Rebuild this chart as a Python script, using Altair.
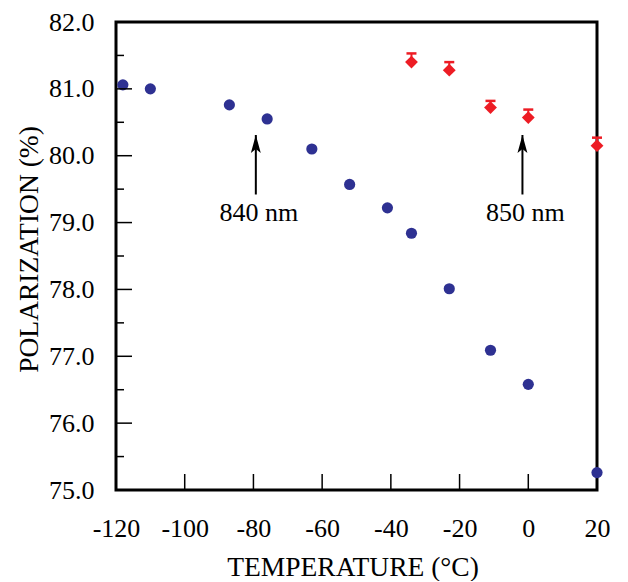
import altair as alt
import pandas as pd

# ---- data ----
blue_T = [-118, -110, -87, -76, -63, -52, -41, -34, -23, -11, 0, 20]
blue_P = [81.06, 81.00, 80.76, 80.55, 80.10, 79.57, 79.22, 78.84, 78.01, 77.09, 76.58, 75.26]

red_T = [-34, -23, -11, 0, 20]
red_P = [81.40, 81.28, 80.72, 80.57, 80.15]
red_err = [0.13, 0.12, 0.10, 0.12, 0.12]

arrow_T = [-79.3, -1.7]
arrow_base = [79.42, 79.42]
arrow_tip = [80.31, 80.31]
arrow_label = ["840 nm", "850 nm"]
label_P = [79.14, 79.14]

x_ticks = [-120, -100, -80, -60, -40, -20, 0, 20]
x_inner_ticks = [-100, -80, -60, -40, -20, 0]
y_ticks = [75, 76, 77, 78, 79, 80, 81, 82]
y_major_inner = [76, 77, 78, 79, 80, 81]
y_minor_inner = [75.5, 76.5, 77.5, 78.5, 79.5, 80.5, 81.5]

FONT = "Liberation Serif"
BLUE = "#2E3192"
RED = "#ED1C24"
W, H = 481, 468

blue_df = pd.DataFrame({"T": blue_T, "P": blue_P})
red_df = pd.DataFrame({"T": red_T, "P": red_P,
                       "top": [p + e for p, e in zip(red_P, red_err)]})
arrow_df = pd.DataFrame({"T": arrow_T, "base": arrow_base, "tip": arrow_tip,
                         "label": arrow_label, "lp": label_P})

x_scale = alt.Scale(domain=[-120, 20], nice=False, zero=False)
y_scale = alt.Scale(domain=[75, 82], nice=False, zero=False)

x_axis = alt.Axis(values=x_ticks, labelExpr="'' + datum.value",
                  title="TEMPERATURE (°C)", grid=False, domain=False, ticks=False,
                  labelPadding=25, labelFontSize=26, labelFont=FONT, labelColor="black",
                  labelFlush=False, labelOverlap=False,
                  titleFont=FONT, titleFontSize=27.5, titleFontWeight="normal",
                  titleColor="black", titleX=236.5, titleY=85,
                  titleBaseline="alphabetic", titleAlign="center")
y_axis = alt.Axis(values=y_ticks, format=".1f",
                  title="POLARIZATION (%)", grid=False, domain=False, ticks=False,
                  labelPadding=22, labelFontSize=26, labelFont=FONT, labelColor="black",
                  labelFlush=False, labelOverlap=False,
                  titleFont=FONT, titleFontSize=27.5, titleFontWeight="normal",
                  titleColor="black", titleX=-79, titleY=227, titleAngle=270,
                  titleBaseline="alphabetic", titleAlign="center")


def X(field):
    return alt.X(field, scale=x_scale, axis=x_axis)


def Y(field):
    return alt.Y(field, scale=y_scale, axis=y_axis)


points_blue = alt.Chart(blue_df).mark_circle(size=125, color=BLUE, opacity=1).encode(
    x=X("T:Q"), y=Y("P:Q"))

ymaj = alt.Chart(pd.DataFrame({"v": y_major_inner})).mark_rule(color="black", strokeWidth=1.5).encode(
    y=Y("v:Q"), x=alt.value(0), x2=alt.value(16))
ymin = alt.Chart(pd.DataFrame({"v": y_minor_inner})).mark_rule(color="black", strokeWidth=1.5).encode(
    y=Y("v:Q"), x=alt.value(0), x2=alt.value(8))
xmaj = alt.Chart(pd.DataFrame({"v": x_inner_ticks})).mark_rule(color="black", strokeWidth=1.5).encode(
    x=X("v:Q"), y=alt.value(H), y2=alt.value(H - 16))

red_base = alt.Chart(red_df)
err_rule = red_base.mark_rule(color=RED, strokeWidth=2).encode(
    x=X("T:Q"), y=Y("P:Q"), y2="top:Q")
err_cap = red_base.mark_tick(color=RED, orient="horizontal", size=10, thickness=2.5, opacity=1).encode(
    x=X("T:Q"), y=Y("top:Q"))
red_pts = red_base.mark_point(shape="diamond", filled=True, size=165, color=RED, opacity=1).encode(
    x=X("T:Q"), y=Y("P:Q"))

arr_base = alt.Chart(arrow_df)
arrow_line = arr_base.mark_rule(color="black", strokeWidth=2).encode(
    x=X("T:Q"), y=Y("base:Q"), y2="tip:Q")
arrow_head = arr_base.mark_point(shape="M0,0L0.55,2L0,1.55L-0.55,2Z", filled=True,
                                 size=324, color="black", opacity=1).encode(
    x=X("T:Q"), y=Y("tip:Q"))
arrow_text = arr_base.mark_text(font=FONT, fontSize=26, color="black", baseline="middle",
                                align="center", dx=3).encode(
    x=X("T:Q"), y=Y("lp:Q"), text="label:N")

chart = alt.layer(points_blue, ymaj, ymin, xmaj, err_rule, err_cap, red_pts,
                  arrow_line, arrow_head, arrow_text).properties(
    width=W, height=H,
    autosize=alt.AutoSizeParams(type="none"),
    padding={"left": 108, "top": 14, "right": 20, "bottom": 91},
    background="white",
).configure_view(stroke="black", strokeWidth=3)

chart.save("out.html", embed_options={"renderer": "svg", "actions": False})
